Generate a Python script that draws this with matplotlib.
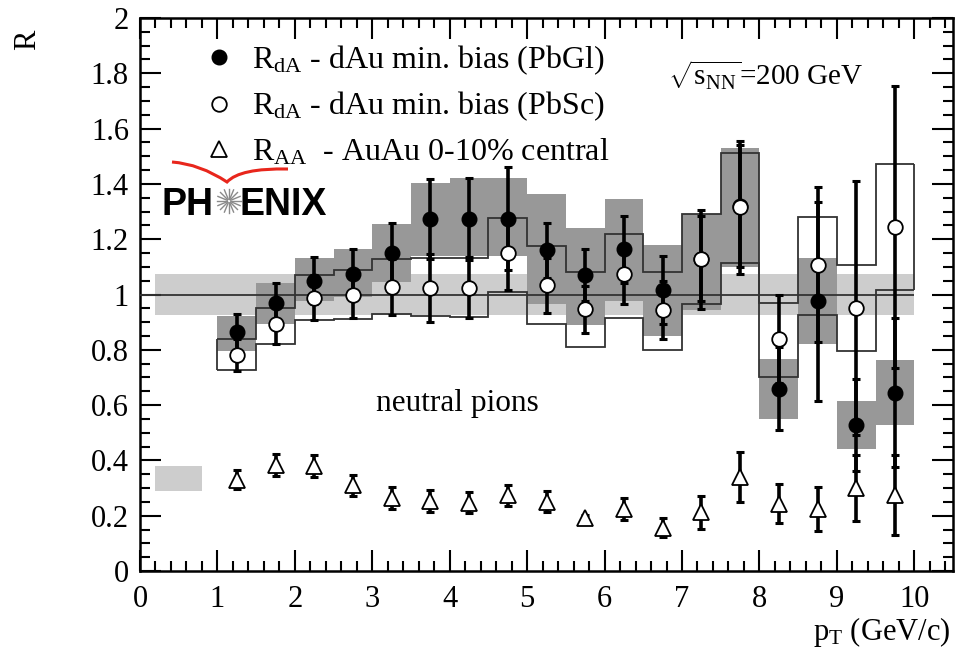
import matplotlib
matplotlib.use('Agg')
import matplotlib.pyplot as plt
import numpy as np
from matplotlib.lines import Line2D
from matplotlib.path import Path
from matplotlib.patches import PathPatch
from matplotlib.ticker import MultipleLocator

plt.rcParams['font.family'] = ['Liberation Serif', 'DejaVu Serif']
plt.rcParams['mathtext.fontset'] = 'custom'
plt.rcParams['mathtext.rm'] = 'Liberation Serif'
plt.rcParams['mathtext.it'] = 'Liberation Serif:italic'
plt.rcParams['mathtext.bf'] = 'Liberation Serif:bold'

# ---------------- data ----------------
pt = [1.25, 1.75, 2.25, 2.75, 3.25, 3.75, 4.25, 4.75, 5.25,
      5.75, 6.25, 6.75, 7.25, 7.75, 8.25, 8.75, 9.25, 9.75]
bin_edges = [1.0, 1.5, 2.0, 2.5, 3.0, 3.5, 4.0, 4.5, 5.0, 5.5,
             6.0, 6.5, 7.0, 7.5, 8.0, 8.5, 9.0, 9.5, 10.0]

# R_dA dAu min. bias (PbGl) - filled circles
pbgl = [0.866, 0.971, 1.049, 1.075, 1.149, 1.272, 1.272, 1.274, 1.160,
        1.071, 1.163, 1.016, 1.130, 1.320, 0.660, 0.976, 0.528, 0.645]
pbgl_err = [0.065, 0.070, 0.085, 0.090, 0.110, 0.145, 0.148, 0.187, 0.100,
            0.094, 0.120, 0.123, 0.155, 0.220, 0.150, 0.360, 0.165, 0.270]
pbgl_sys_lo = [0.796, 0.895, 0.975, 0.990, 1.045, 1.140, 1.140, 1.140, 0.965,
               0.890, 0.975, 0.850, 0.945, 1.100, 0.548, 0.820, 0.440, 0.528]
pbgl_sys_hi = [0.922, 1.040, 1.133, 1.165, 1.255, 1.404, 1.420, 1.420, 1.362,
               1.240, 1.345, 1.180, 1.290, 1.530, 0.765, 1.133, 0.615, 0.762]

# R_dA dAu min. bias (PbSc) - open circles
pbsc = [0.781, 0.892, 0.989, 1.000, 1.027, 1.025, 1.025, 1.151, 1.033,
        0.946, 1.073, 0.943, 1.127, 1.315, 0.840, 1.107, 0.952, 1.245]
pbsc_err = [0.058, 0.070, 0.082, 0.085, 0.100, 0.123, 0.110, 0.136, 0.100,
            0.085, 0.108, 0.105, 0.180, 0.240, 0.160, 0.280, 0.460, 0.510]
pbsc_sys_lo = [0.726, 0.820, 0.907, 0.910, 0.928, 0.922, 0.918, 1.010, 0.895,
               0.810, 0.915, 0.800, 0.965, 1.115, 0.700, 0.925, 0.796, 1.016]
pbsc_sys_hi = [0.838, 0.952, 1.070, 1.090, 1.127, 1.133, 1.133, 1.278, 1.175,
               1.080, 1.220, 1.080, 1.290, 1.510, 0.970, 1.281, 1.107, 1.471]

# R_AA AuAu 0-10% central - open triangles
raa = [0.330, 0.382, 0.380, 0.310, 0.265, 0.253, 0.246, 0.274, 0.250,
       0.193, 0.225, 0.157, 0.213, 0.339, 0.244, 0.225, 0.300, 0.275]
raa_err = [0.035, 0.040, 0.040, 0.037, 0.040, 0.040, 0.038, 0.038, 0.038,
           0.010, 0.040, 0.033, 0.060, 0.090, 0.070, 0.080, 0.120, 0.145]

# normalization uncertainties
dau_norm_x = [0.2, 10.0]
dau_norm_y = [0.927, 1.073]
aa_norm_x = [0.2, 0.8]
aa_norm_y = [0.29, 0.38]

labels = [r'R$_{\rm dA}$ - dAu min. bias (PbGl)',
          r'R$_{\rm dA}$ - dAu min. bias (PbSc)',
          r'R$_{\rm AA}$  - AuAu 0-10% central']

# ---------------- figure ----------------
W, H = 967, 661
fig = plt.figure(figsize=(W / 100, H / 100), dpi=100)
ax = fig.add_axes([140 / W, 1 - 571 / H, (953 - 140) / W, (571 - 18) / H])

DARK = '#989898'
LIGHT = '#cdcdcd'

# normalization bands
ax.fill_between(dau_norm_x, dau_norm_y[0], dau_norm_y[1], color=LIGHT, lw=0, zorder=1)
ax.fill_between(aa_norm_x, aa_norm_y[0], aa_norm_y[1], color=LIGHT, lw=0, zorder=1)

# PbGl systematic boxes
pbgl_lo = np.array(pbgl_sys_lo)
pbgl_hi = np.array(pbgl_sys_hi)
ax.bar(pt, pbgl_hi - pbgl_lo, bottom=pbgl_lo, width=0.5, color=DARK, lw=0, zorder=2)

# unity line
ax.hlines(1.0, 0.0, bin_edges[-1], color='#333333', lw=1.3, zorder=3)

# PbSc systematic outline (step lines)
ax.stairs(pbsc_sys_hi, bin_edges, baseline=None, color='#333333', lw=1.3, zorder=3)
ax.stairs(pbsc_sys_lo, bin_edges, baseline=None, color='#333333', lw=1.3, zorder=3)
ax.vlines([bin_edges[0], bin_edges[-1]], [pbsc_sys_lo[0], pbsc_sys_lo[-1]],
          [pbsc_sys_hi[0], pbsc_sys_hi[-1]], color='#333333', lw=1.3, zorder=3)

ebkw = dict(fmt='none', ecolor='black', elinewidth=2.6, capsize=3, capthick=2.2)
ax.errorbar(pt, raa, yerr=raa_err, zorder=4, **ebkw)
ax.errorbar(pt, pbgl, yerr=pbgl_err, zorder=4, **ebkw)
ax.errorbar(pt, pbsc, yerr=pbsc_err, zorder=4, **ebkw)

ax.plot(pt, raa, ls='none', marker='^', ms=12, mfc='white', mec='black', mew=1.3, zorder=5)
ax.plot(pt, pbgl, ls='none', marker='o', ms=10.5, mfc='black', mec='black', zorder=5)
ax.plot(pt, pbsc, ls='none', marker='o', ms=10.5, mfc='white', mec='black', mew=1.3, zorder=6)

# axes styling
ax.set_xlim(0, 10.5)
ax.set_ylim(0, 2)
ax.xaxis.set_major_locator(MultipleLocator(1))
ax.xaxis.set_minor_locator(MultipleLocator(0.2))
ax.yaxis.set_minor_locator(MultipleLocator(0.05))
ax.set_yticks(np.arange(0, 2.01, 0.2))
ax.set_yticklabels(['0', '0.2', '0.4', '0.6', '0.8', '1', '1.2', '1.4', '1.6', '1.8', '2'])
ax.tick_params(which='both', direction='in', top=True, right=True, labelsize=22, width=1.5)
ax.tick_params(which='major', length=15)
ax.tick_params(which='minor', length=7.5)
ax.tick_params(axis='y', pad=8)
ax.tick_params(axis='x', pad=10)
for s in ax.spines.values():
    s.set_linewidth(1.8)

fig.text(28 / W, 1 - 40 / H, 'R', fontsize=22, rotation=90, ha='center', va='center')
fig.text(950 / W, 1 - 632 / H, r'p$_{\rm T}$ (GeV/c)', fontsize=22, ha='right', va='center')

# legend
handles = [Line2D([], [], ls='none', marker='o', ms=10.5, mfc='black', mec='black'),
           Line2D([], [], ls='none', marker='o', ms=10.5, mfc='white', mec='black', mew=1.3),
           Line2D([], [], ls='none', marker='^', ms=12, mfc='white', mec='black', mew=1.3)]
ax.legend(handles, labels, loc='upper left', bbox_to_anchor=(0.0615, 0.978), frameon=False,
          fontsize=23, handlelength=1.0, handletextpad=0.55, labelspacing=0.42, borderaxespad=0)

ax.text((457 - 140) / 813, (571 - 403) / 553, 'neutral pions', fontsize=22.5,
        ha='center', va='center', transform=ax.transAxes)
ax.text((668 - 140) / 813, (571 - 75) / 553, r'$\sqrt{\mathrm{s}_{\rm NN}}$=200 GeV', fontsize=21,
        ha='left', va='center', transform=ax.transAxes)

# PHENIX logo
def fx(px):
    return px / W

def fy(py):
    return 1 - py / H

fig.text(fx(161), fy(215), 'PH', fontsize=27, fontweight='bold', family='Liberation Sans',
         ha='left', va='baseline')
fig.text(fx(239), fy(215), 'ENIX', fontsize=27, fontweight='bold', family='Liberation Sans',
         ha='left', va='baseline')
cx, cy, r = 229, 201, 12
for ang in np.arange(0, 2 * np.pi, 2 * np.pi / 16):
    fig.add_artist(Line2D([fx(cx + 2 * np.cos(ang)), fx(cx + r * np.cos(ang))],
                          [fy(cy + 2 * np.sin(ang)), fy(cy + r * np.sin(ang))],
                          color='#8a8a8a', lw=1.0, transform=fig.transFigure))
verts = [(fx(172), fy(162)), (fx(200), fy(164)), (fx(227), fy(182)),
         (fx(240), fy(168)), (fx(288), fy(169))]
codes = [Path.MOVETO, Path.CURVE3, Path.CURVE3, Path.CURVE3, Path.CURVE3]
fig.add_artist(PathPatch(Path(verts, codes), fc='none', ec='#e8261c', lw=2.2,
                         transform=fig.transFigure))

fig.savefig('out.png', dpi=100)
